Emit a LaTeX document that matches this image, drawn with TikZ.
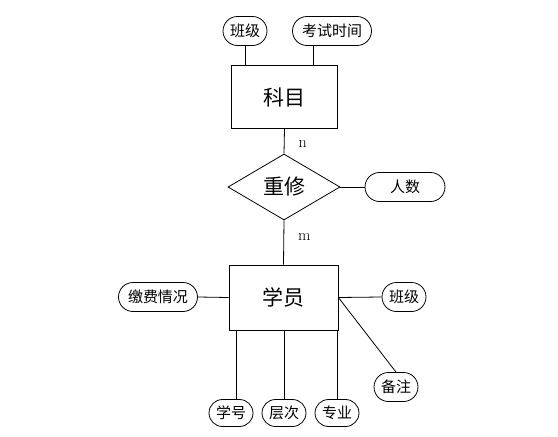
\documentclass[tikz,border=0pt]{standalone}
\usepackage{fontspec}
\newfontfamily\cjk{Noto Sans CJK SC}
\usetikzlibrary{shapes,calc}

\begin{document}
\begin{tikzpicture}[x=1pt,y=-1pt,line width=0.8pt,
	entity/.style={rectangle,draw,minimum width=106pt,minimum height=63pt,font=\cjk\fontsize{21}{21}\selectfont},
	attr/.style={rounded rectangle,draw,minimum width=48pt,minimum height=29pt,inner xsep=2pt,inner ysep=0pt,font=\cjk\fontsize{15}{15}\selectfont},
	rel/.style={diamond,draw,minimum width=112pt,minimum height=66pt,inner sep=0pt,font=\cjk\fontsize{21}{21}\selectfont},
	card/.style={font=\fontsize{16}{16}\selectfont,inner sep=1pt}]
	\useasboundingbox (0,0) rectangle (558,437);

	\node[entity] at (284.5,97) (km) {科目};
	\node[rel] at (284,187) (cx) {重修};
	\node[entity,minimum width=109pt,minimum height=65pt] at (283.5,297.5) (xy) {学员};

	\node[attr] at (245,31) (bj1) {班级};
	\node[attr,minimum width=83pt] at (332,31) (ks) {考试时间};
	\node[attr,minimum width=84pt] at (405,187) (rs) {人数};
	\node[attr,minimum width=83pt] at (158,297) (jf) {缴费情况};
	\node[attr] at (404,297) (bj2) {班级};
	\node[attr] at (396,387) (bz) {备注};
	\node[attr,minimum height=27pt] at (231,413) (xh) {学号};
	\node[attr,minimum height=27pt] at (284,413) (cc) {层次};
	\node[attr,minimum height=27pt] at (337,413) (zy) {专业};

	\draw (bj1.south) -- (bj1.south |- km.north);
	\draw ($(ks.south)+(-19,0)$) -- ($(ks.south |- km.north)+(-19,0)$);
	\draw (km.south) -- (cx.north) node [card,pos=0.6,right,xshift=13] (n) {n};
	\draw (cx.south) -- (xy.north) node [card,pos=0.38,right,xshift=13] (m) {m};
	\draw (cx.east) -- (rs.west);
	\draw (jf.east) -- (xy.west);
	\draw (xy.east) -- (bj2.west);
	\draw (xy.east) -- (bz.north);
	\draw ($(xh.north)+(5,0)$) -- ($(xh.north |- xy.south)+(5,0)$);
	\draw (cc.north) -- (cc.north |- xy.south);
	\draw (zy.north) -- (zy.north |- xy.south);
\end{tikzpicture}
\end{document}
